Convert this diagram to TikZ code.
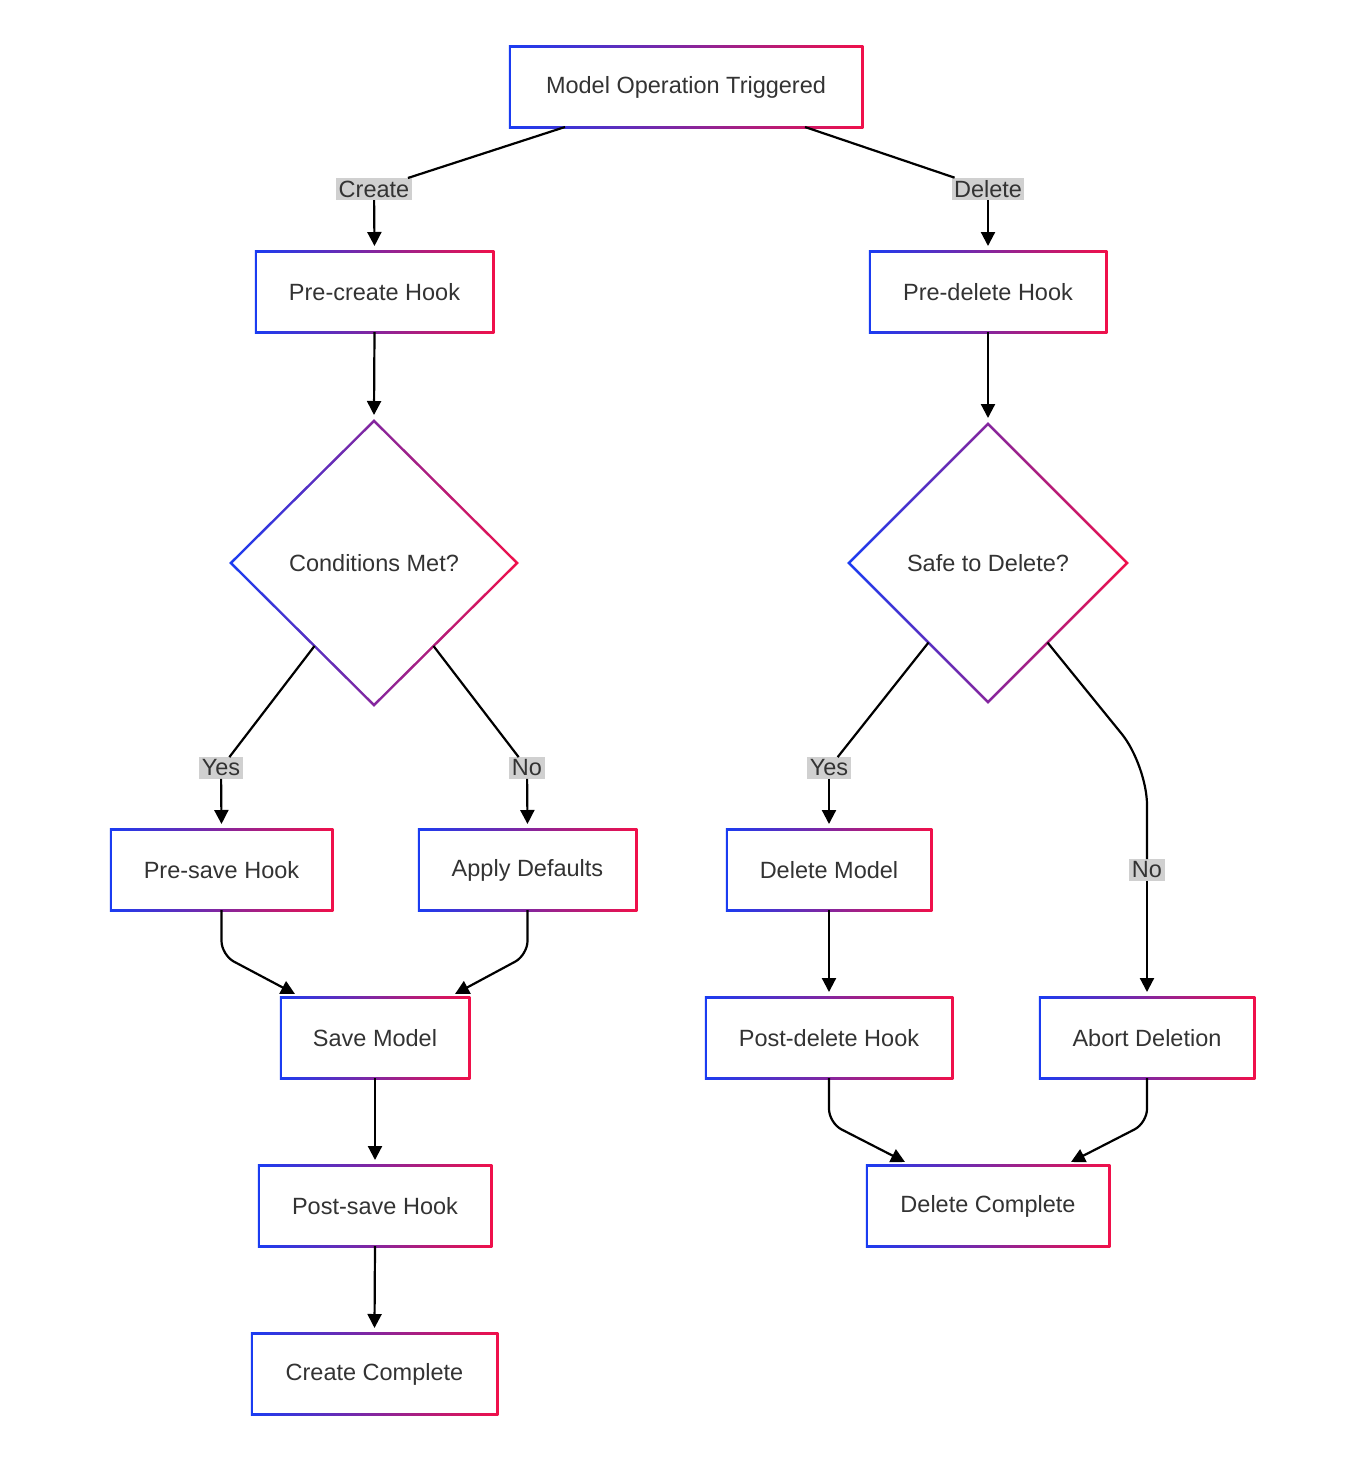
\documentclass[tikz,border=0pt]{standalone}
\usepackage{fontspec}
\setmainfont{Liberation Sans}
\usetikzlibrary{shapes.geometric,arrows.meta,calc}
\definecolor{gB}{HTML}{1A3CF2}
\definecolor{gR}{HTML}{F0104A}
\definecolor{tx}{HTML}{333333}
\definecolor{lb}{HTML}{D0D0D0}
\newcommand\gbox[6]{%
  \shade[left color=gB,right color=gR] ({#2-#4/2-1.25},{#3-#5/2-1.25}) rectangle ({#2+#4/2+1.25},{#3+#5/2+1.25});
  \fill[white] ({#2-#4/2+1.25},{#3-#5/2+1.25}) rectangle ({#2+#4/2-1.25},{#3+#5/2-1.25});
  \node[box,minimum width=#4,minimum height=#5] (#1) at (#2,#3) {#6};}
\newcommand\gdia[6]{%
  \shade[left color=gB,right color=gR] ({#2-#4-1.8},#3) -- (#2,{#3-#5-1.8}) -- ({#2+#4+1.8},#3) -- (#2,{#3+#5+1.8}) -- cycle;
  \fill[white] ({#2-#4+1.8},#3) -- (#2,{#3-#5+1.8}) -- ({#2+#4-1.8},#3) -- (#2,{#3+#5-1.8}) -- cycle;
  \node[box,diamond,minimum width=2*#4,minimum height=2*#5] (#1) at (#2,#3) {#6};}
\begin{document}
\begin{tikzpicture}[x=1pt,y=-1pt,
  box/.style={inner sep=0,outer sep=0,text=tx,font=\fontsize{23.5}{28}\selectfont},
  lab/.style={fill=lb,text=tx,inner sep=2.5pt,font=\fontsize{23.5}{28}\selectfont},
  ar/.style={line width=2.2pt,black,rounded corners=14pt,-{Triangle[length=14pt,width=14pt]}},
  ln/.style={line width=2.2pt,black}]
\useasboundingbox (0,0) rectangle (1366,1460);
\gbox{top}{686}{87}{352}{80}{Model Operation Triggered}
\gbox{pc}{374.5}{292}{237}{80}{Pre-create Hook}
\gbox{pd}{988}{292}{236}{80}{Pre-delete Hook}
\gdia{cm}{374}{563}{143}{142}{Conditions Met?}
\gdia{sd}{988}{563}{139}{139}{Safe to Delete?}
\gbox{ps}{221.5}{870}{221}{80}{Pre-save Hook}
\gbox{ad}{527.5}{870}{217}{80}{Apply Defaults}
\gbox{dm}{829}{870}{204}{80}{Delete Model}
\gbox{sm}{375}{1038}{188}{80}{Save Model}
\gbox{pdh}{829}{1038}{246}{80}{Post-delete Hook}
\gbox{ab}{1147}{1038}{214}{80}{Abort Deletion}
\gbox{psh}{375}{1206}{232}{80}{Post-save Hook}
\gbox{dc}{988}{1206}{242}{80}{Delete Complete}
\gbox{cc}{374.5}{1374}{245}{80}{Create Complete}
% labels
\node[lab] (lcr) at (374,189) {Create};
\node[lab] (lde) at (988,189) {Delete};
\node[lab] (ly1) at (221,768) {Yes};
\node[lab] (ln1) at (527,768) {No};
\node[lab] (ly2) at (829,768) {Yes};
\node[lab] (ln2) at (1147,870) {No};
% edges
\draw[ln] ([xshift=-121pt]top.south) -- (lcr);
\draw[ar] (lcr) -- ([yshift=6pt]pc.north);
\draw[ln] ([xshift=119pt]top.south) -- (lde);
\draw[ar] (lde) -- ([yshift=6pt]pd.north);
\draw[ar] (pc.south) -- ([yshift=6pt]cm.north);
\draw[ar] (pd.south) -- ([yshift=6pt]sd.north);
\draw[ln] ([shift={(12pt,-12pt)}]cm.south west) -- (ly1);
\draw[ar] (ly1) -- ([yshift=6pt]ps.north);
\draw[ln] ([shift={(-12pt,-12pt)}]cm.south east) -- (ln1);
\draw[ar] (ln1) -- ([yshift=6pt]ad.north);
\draw[ln] ([shift={(10pt,-10pt)}]sd.south west) -- (ly2);
\draw[ar] (ly2) -- ([yshift=6pt]dm.north);
\draw[ln,rounded corners=40pt] ([shift={(-10pt,-10pt)}]sd.south east) -- (1147,765) -- (ln2);
\draw[ar] (ln2) -- ([yshift=6pt]ab.north);
\draw[ar] (ps.south) -- (221.5,955) -- ([shift={(-80pt,4pt)}]sm.north);
\draw[ar] (ad.south) -- (527.5,955) -- ([shift={(80pt,4pt)}]sm.north);
\draw[ar] (sm.south) -- ([yshift=6pt]psh.north);
\draw[ar] (psh.south) -- ([yshift=6pt]cc.north);
\draw[ar] (dm.south) -- ([yshift=6pt]pdh.north);
\draw[ar] (pdh.south) -- (829,1123) -- ([shift={(-83pt,4pt)}]dc.north);
\draw[ar] (ab.south) -- (1147,1123) -- ([shift={(83pt,4pt)}]dc.north);
\end{tikzpicture}
\end{document}
